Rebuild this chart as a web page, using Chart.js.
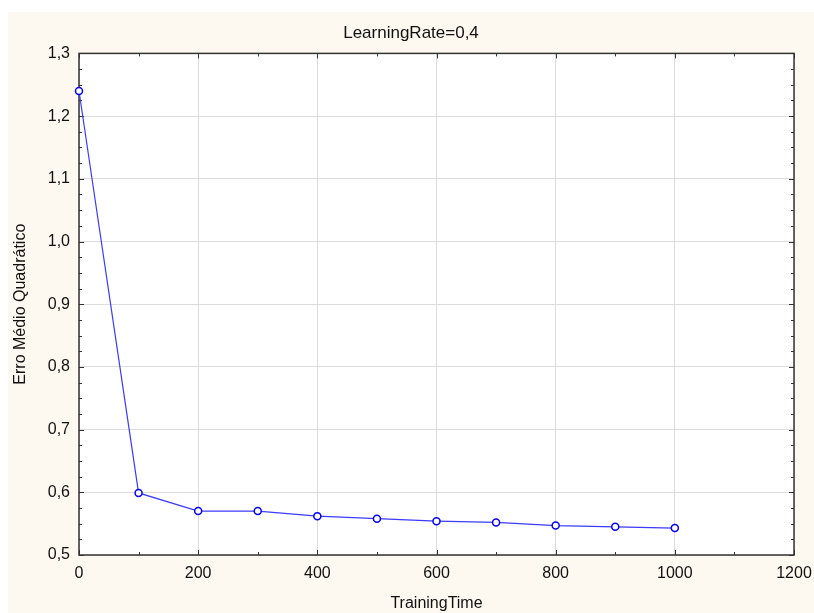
<!DOCTYPE html>
<html>
<head>
<meta charset="utf-8">
<script src="https://cdn.jsdelivr.net/npm/chart.js@4"></script>
<style>
  html, body { margin: 0; padding: 0; background: #ffffff; }
  canvas { display: block; }
</style>
</head>
<body>
<canvas id="erroChart" width="814" height="613"></canvas>
<script>
// data
const trainingTime = [0, 100, 200, 300, 400, 500, 600, 700, 800, 900, 1000];
const erroMedio = [1.24, 0.599, 0.570, 0.570, 0.562, 0.558, 0.554, 0.552, 0.547, 0.545, 0.543];
const xRange = [0, 1200];
const yRange = [0.5, 1.3];

const FONT = 'Liberation Sans, Arial, sans-serif';

// cream page + white plot area
const backdrop = {
    id: 'backdrop',
    beforeDraw(chart) {
        const ctx = chart.ctx;
        const a = chart.chartArea;
        ctx.save();
        ctx.fillStyle = '#ffffff';
        ctx.fillRect(0, 0, chart.width, chart.height);
        ctx.fillStyle = '#fdf9f0';
        ctx.fillRect(8, 12, chart.width - 8, chart.height - 12);
        ctx.fillStyle = '#ffffff';
        ctx.fillRect(a.left, a.top, a.right - a.left, a.bottom - a.top);
        ctx.restore();
    }
};

// frame with inward ticks on all four sides
const frame = {
    id: 'frame',
    beforeDatasetsDraw(chart) {
        const ctx = chart.ctx;
        const a = chart.chartArea;
        const xs = chart.scales.x, ys = chart.scales.y;
        ctx.save();
        ctx.strokeStyle = '#333333';
        ctx.lineWidth = 1;
        ctx.beginPath();
        for (let v = 0; v <= 1200; v += 100) {
            const px = Math.round(xs.getPixelForValue(v)) + 0.5;
            const len = v % 200 === 0 ? 5 : 3;
            ctx.moveTo(px, a.top); ctx.lineTo(px, a.top + len);
            ctx.moveTo(px, a.bottom); ctx.lineTo(px, a.bottom - len);
        }
        for (let i = 0; i <= 32; i++) {
            const v = 0.5 + i * 0.025;
            const py = Math.round(ys.getPixelForValue(v)) + 0.5;
            const len = i % 4 === 0 ? 5 : 3;
            ctx.moveTo(a.left, py); ctx.lineTo(a.left + len, py);
            ctx.moveTo(a.right, py); ctx.lineTo(a.right - len, py);
        }
        ctx.stroke();
        ctx.lineWidth = 1.5;
        ctx.strokeRect(a.left, a.top, a.right - a.left, a.bottom - a.top);
        ctx.restore();
    }
};

const ctx = document.getElementById('erroChart').getContext('2d');
new Chart(ctx, {
    type: 'line',
    data: {
        datasets: [{
            label: 'Erro',
            data: trainingTime.map((t, i) => ({ x: t, y: erroMedio[i] })),
            borderColor: '#3b3bff',
            borderWidth: 1.2,
            pointRadius: 3.5,
            pointBorderWidth: 1.5,
            pointBorderColor: '#0000ff',
            pointBackgroundColor: '#ffffff',
            tension: 0,
            fill: false,
            clip: false
        }]
    },
    options: {
        responsive: false,
        animation: false,
        layout: { padding: { left: 8, top: 12, right: 0, bottom: 0 } },
        plugins: {
            legend: { display: false },
            tooltip: { enabled: false },
            title: {
                display: true,
                text: 'LearningRate=0,4',
                color: '#111111',
                font: { family: FONT, size: 17, weight: 'normal' },
                padding: { top: 11, bottom: 10 }
            }
        },
        scales: {
            x: {
                type: 'linear',
                min: xRange[0],
                max: xRange[1],
                afterFit(scale) {
                    scale.height = 58;
                    scale.paddingLeft = 0;
                    scale.paddingRight = 0;
                },
                ticks: {
                    stepSize: 200,
                    color: '#111111',
                    padding: 9,
                    maxRotation: 0,
                    font: { family: FONT, size: 16 },
                    callback: v => String(v)
                },
                grid: { color: '#dcdcdc', lineWidth: 1, drawTicks: false },
                border: { display: false },
                title: {
                    display: true,
                    text: 'TrainingTime',
                    color: '#111111',
                    font: { family: FONT, size: 16 },
                    padding: { top: 0, bottom: 0 }
                }
            },
            y: {
                min: yRange[0],
                max: yRange[1],
                afterFit(scale) { scale.width = 71; },
                ticks: {
                    stepSize: 0.1,
                    color: '#111111',
                    padding: 9,
                    font: { family: FONT, size: 16 },
                    callback: v => v.toFixed(1).replace('.', ',')
                },
                grid: { color: '#dcdcdc', lineWidth: 1, drawTicks: false },
                border: { display: false },
                title: {
                    display: true,
                    text: 'Erro Médio Quadrático',
                    color: '#111111',
                    font: { family: FONT, size: 16 },
                    padding: { top: 3, bottom: 0 }
                }
            },
            // empty strip on the right, keeps the frame off the edge
            yRight: {
                position: 'right',
                min: yRange[0],
                max: yRange[1],
                afterFit(scale) { scale.width = 20; },
                ticks: { display: false },
                grid: { display: false, drawTicks: false },
                border: { display: false }
            }
        }
    },
    plugins: [backdrop, frame]
});
</script>
</body>
</html>
